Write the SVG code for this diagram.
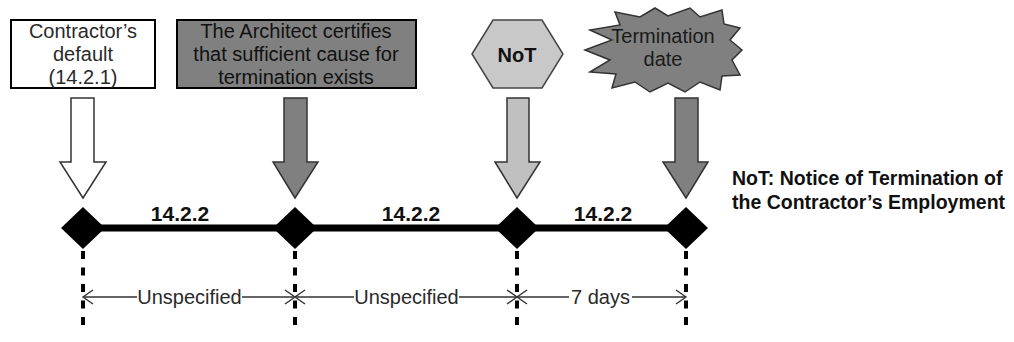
<svg xmlns="http://www.w3.org/2000/svg" width="1014" height="342" viewBox="0 0 1014 342">
<style>
text{font-family:"Liberation Sans",Arial,sans-serif;fill:#2a2a2a;text-anchor:middle}
.lbl{font-size:20px}
.b{font-weight:bold;fill:#111}
.dim{font-size:20px}
.arr{stroke:#333;stroke-width:1.5}
.dot{stroke:#000;stroke-width:4;stroke-dasharray:8 8.5;fill:none}
.dl{stroke:#333;stroke-width:1.4;fill:none}
.dia{fill:#000}
</style>
<rect width="1014" height="342" fill="#fff"/>
<g id="node-default">
<rect x="11" y="20" width="144" height="68" fill="#fff" stroke="#000" stroke-width="2"/>
<text class="lbl" x="83" y="38">Contractor’s</text>
<text class="lbl" x="83" y="61">default</text>
<text class="lbl" x="83" y="84">(14.2.1)</text>
</g>
<g id="node-certify">
<rect x="177" y="20" width="239" height="68" fill="#808080" stroke="#000" stroke-width="2"/>
<text class="lbl" x="296" y="38" style="fill:#111">The Architect certifies</text>
<text class="lbl" x="296" y="61" style="fill:#111">that sufficient cause for</text>
<text class="lbl" x="296" y="84" style="fill:#111">termination exists</text>
</g>
<g id="node-not">
<polygon points="472,54 493,20 542,20 563,54 542,88 493,88" fill="#c8c8c8" stroke="#444" stroke-width="1.5"/>
<text class="lbl b" x="517" y="62">NoT</text>
</g>
<g id="node-termination">
<polygon points="585,50 612,40 590,30 620,25 615,12 640,17 655,8 668,16 690,8 700,17 722,10 724,24 740,28 730,40 742,50 732,60 740,75 722,76 720,90 700,82 685,92 668,83 650,92 635,82 612,88 616,74 590,72 610,60" fill="#808080" stroke="#333" stroke-width="1.5"/>
<text class="lbl" x="663" y="43" style="fill:#1a1a1a">Termination</text>
<text class="lbl" x="663" y="66" style="fill:#1a1a1a">date</text>
</g>
<g id="node-legend">
<text class="b" x="732" y="185" style="font-size:19.5px;text-anchor:start">NoT: Notice of Termination of</text>
<text class="b" x="732" y="209" style="font-size:19.5px;text-anchor:start">the Contractor’s Employment</text>
</g>
<g id="connectors">
<polygon class="arr" fill="#fff" points="71,98 94,98 94,162 106,162 83,198 60,162 71,162"/>
<polygon class="arr" fill="#808080" points="284,98 307,98 307,162 318,162 295,198 273,162 284,162"/>
<polygon class="arr" fill="#c0c0c0" points="507,98 529,98 529,162 540,162 517,198 495,162 507,162"/>
<polygon class="arr" fill="#808080" points="675,98 698,98 698,162 708,162 686,198 663,162 675,162"/>
<line x1="83" y1="228" x2="686" y2="228" stroke="#000" stroke-width="7"/>
<polygon class="dia" points="83,207 105,228 83,249 61,228"/>
<polygon class="dia" points="295,207 317,228 295,249 273,228"/>
<polygon class="dia" points="517,207 539,228 517,249 495,228"/>
<polygon class="dia" points="686,207 708,228 686,249 664,228"/>
<text class="b" x="180" y="221" style="font-size:21px">14.2.2</text>
<text class="b" x="411" y="221" style="font-size:21px">14.2.2</text>
<text class="b" x="603" y="221" style="font-size:21px">14.2.2</text>
<line class="dot" x1="83" y1="251" x2="83" y2="330"/>
<line class="dot" x1="295" y1="251" x2="295" y2="330"/>
<line class="dot" x1="517" y1="251" x2="517" y2="330"/>
<line class="dot" x1="686" y1="251" x2="686" y2="330"/>
<path class="dl" d="M83,297H137M242,297H295M295,297H354M459,297H517M517,297H569M632,297H686"/>
<path class="dl" d="M93,290L83,297L93,304M285,290L295,297L285,304M305,290L295,297L305,304M507,290L517,297L507,304M527,290L517,297L527,304M676,290L686,297L676,304"/>
<text class="dim" x="189.5" y="304">Unspecified</text>
<text class="dim" x="406.5" y="304">Unspecified</text>
<text class="dim" x="600.5" y="304">7 days</text>
</g>
</svg>
